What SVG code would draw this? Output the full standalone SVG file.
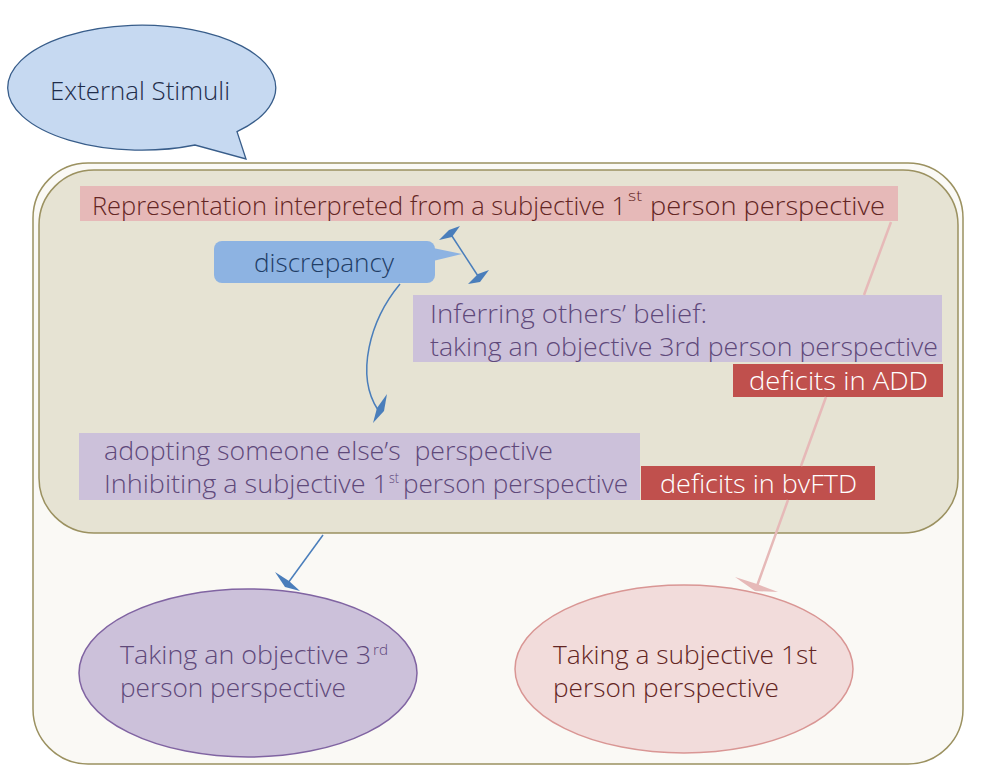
<svg xmlns="http://www.w3.org/2000/svg" width="1000" height="775" viewBox="0 0 1000 775">
<style>
text{font-family:"Open Sans","Noto Sans","Liberation Sans",sans-serif;font-weight:300;font-size:25px}
.red{fill:#632523}
.pur{fill:#5f497a}
.blu{fill:#1f3d66}
.wht{fill:#ffffff}
.sup{font-size:14px}
.conn{fill:none;stroke:#4a7ebb;stroke-width:1.5}
.pink{fill:none;stroke:#e6b9b8;stroke-width:2.5}
.head{fill:#4a7ebb}
</style>
<rect width="1000" height="775" fill="#ffffff"/>
<g id="container-outer">
<rect x="33" y="163" width="930" height="601" rx="55" fill="#faf9f5" stroke="#9b9160" stroke-width="1.5"/>
</g>
<g id="container-inner">
<rect x="39" y="170" width="919" height="363" rx="55" fill="#e6e3d3" stroke="#9b9160" stroke-width="1.5"/>
</g>
<g id="external-stimuli">
<path d="M195,145 A134,62.5 0 1 1 237,131.6 L246,159 Z" fill="#c6d9f1" stroke="#385d8a" stroke-width="1.3"/>
<text x="50" y="100" textLength="180" lengthAdjust="spacingAndGlyphs" font-size="24" fill="#1f2d4a">External Stimuli</text>
</g>
<g id="banner-1st-person">
<rect x="80" y="186" width="818" height="35" fill="#e6b9b8"/>
<text class="red" x="92" y="215" textLength="534" lengthAdjust="spacingAndGlyphs">Representation interpreted from a subjective 1</text>
<text class="red sup" x="628" y="201" textLength="14" lengthAdjust="spacingAndGlyphs">st</text>
<text class="red" x="650" y="215" textLength="235" lengthAdjust="spacingAndGlyphs">person perspective</text>
</g>
<g id="discrepancy">
<rect x="214" y="241" width="221" height="42" rx="8" fill="#8db3e2"/>
<polygon points="433,248 462,254 433,261" fill="#8db3e2"/>
<text class="blu" x="254" y="272" textLength="140" lengthAdjust="spacingAndGlyphs">discrepancy</text>
</g>
<g id="inferring-beliefs">
<rect x="413" y="295" width="529" height="67" fill="#ccc1da"/>
<text class="pur" x="430" y="323" textLength="277" lengthAdjust="spacingAndGlyphs">Inferring others’ belief:</text>
<text class="pur" x="430" y="356" textLength="508" lengthAdjust="spacingAndGlyphs">taking an objective 3rd person perspective</text>
</g>
<g id="deficits-add">
<rect x="733" y="364" width="210" height="33" fill="#c0504d"/>
<text class="wht" x="749" y="390" textLength="179" lengthAdjust="spacingAndGlyphs">deficits in ADD</text>
</g>
<g id="adopting-perspective">
<rect x="79" y="433" width="561" height="67" fill="#ccc1da"/>
<text class="pur" x="104" y="460" textLength="449" lengthAdjust="spacingAndGlyphs" xml:space="preserve">adopting someone else’s  perspective</text>
<text class="pur" x="104" y="493" textLength="284" lengthAdjust="spacingAndGlyphs">Inhibiting a subjective 1</text>
<text class="pur sup" x="389" y="483" textLength="10" lengthAdjust="spacingAndGlyphs">st</text>
<text class="pur" x="403" y="493" textLength="225" lengthAdjust="spacingAndGlyphs">person perspective</text>
</g>
<g id="deficits-bvftd">
<rect x="641" y="466" width="234" height="34" fill="#c0504d"/>
<text class="wht" x="660" y="493" textLength="197" lengthAdjust="spacingAndGlyphs">deficits in bvFTD</text>
</g>
<g id="objective-3rd">
<ellipse cx="248" cy="673" rx="169" ry="84" fill="#ccc1da" stroke="#8064a2" stroke-width="1.5"/>
<text class="pur" x="120" y="664" textLength="251" lengthAdjust="spacingAndGlyphs">Taking an objective 3</text>
<text class="pur sup" x="373" y="655" textLength="15" lengthAdjust="spacingAndGlyphs">rd</text>
<text class="pur" x="120" y="697" textLength="226" lengthAdjust="spacingAndGlyphs">person perspective</text>
</g>
<g id="subjective-1st">
<ellipse cx="684" cy="669" rx="169" ry="84" fill="#f2dcdb" stroke="#d99694" stroke-width="1.5"/>
<text class="red" x="553" y="664" textLength="264" lengthAdjust="spacingAndGlyphs">Taking a subjective 1st</text>
<text class="red" x="553" y="697" textLength="226" lengthAdjust="spacingAndGlyphs">person perspective</text>
</g>
<g id="connectors">
<path d="M891,222 L864,295 M826,397 L801,466 M788,500 L757,586" class="pink"/>
<polygon points="735,577 757,584 778,592 755,591" fill="#e6b9b8"/>
<line x1="450" y1="233" x2="478" y2="276" class="conn"/>
<polygon points="439,240 449,230 460,226 452,237" class="head"/>
<polygon points="468,284 478,274 489,270 480,282" class="head"/>
<path d="M400,284 C370,320 355,375 378,410" class="conn"/>
<polygon points="387,394 384,411 373,423 377,408" class="head"/>
<line x1="323" y1="535" x2="288" y2="583" class="conn"/>
<polygon points="275,572 289,581 300,591 285,587" class="head"/>
</g>
</svg>
